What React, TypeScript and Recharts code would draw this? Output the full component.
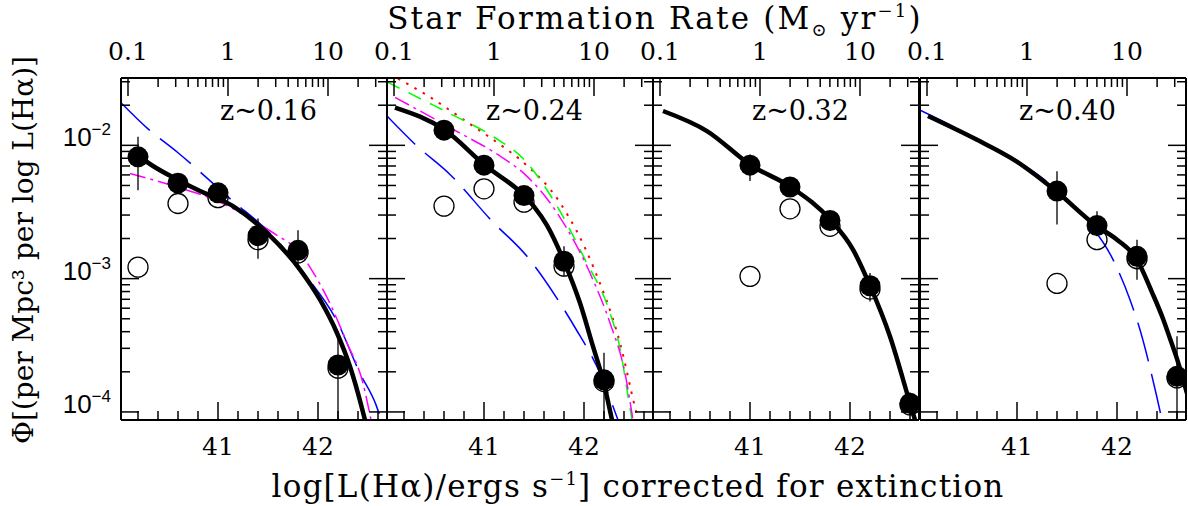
import React from "react";
import { ComposedChart, Line, Scatter, XAxis, YAxis, ErrorBar } from "recharts";

// axis ranges and ticks
const lumDomain = [40.03, 42.69];
const phiDomain = [8.7e-5, 3.2e-2];
const lumTicks = [40.2, 40.4, 40.6, 40.8, 41, 41.2, 41.4, 41.6, 41.8, 42, 42.2, 42.4, 42.6];
const lumLabels = [41, 42];
const sfrTicks = [0.1, 0.2, 0.3, 0.4, 0.5, 0.6, 0.7, 0.8, 0.9, 1, 2, 3, 4, 5, 6, 7, 8, 9, 10, 20, 30];
const sfrLabels = [0.1, 1, 10];
const phiTicks = [
  1e-4, 2e-4, 3e-4, 4e-4, 5e-4, 6e-4, 7e-4, 8e-4, 9e-4,
  1e-3, 2e-3, 3e-3, 4e-3, 5e-3, 6e-3, 7e-3, 8e-3, 9e-3,
  1e-2, 2e-2, 3e-2,
];
const phiLabels = [1e-4, 1e-3, 1e-2];
// SFR = 7.9e-42 L(Ha)  ->  log SFR = log L - 41.1
const sfrTickPos = sfrTicks.map((s) => Math.log10(s) + 41.1);

const panelNames = ["z~0.16", "z~0.24", "z~0.32", "z~0.40"];

// ---- z~0.16 ----
const z16Lum = [40.2, 40.6, 41.0, 41.4, 41.8, 42.2];
const z16Filled = [8.2e-3, 5.2e-3, 4.4e-3, 2.1e-3, 1.63e-3, 2.25e-4];
const z16Open = [1.22e-3, 3.66e-3, 4.05e-3, 1.96e-3, 1.56e-3, 2.13e-4];
const z16ErrLow = [4.6e-3, 4.5e-3, 4.0e-3, 1.41e-3, 1.16e-3, 8.7e-5];
const z16ErrHigh = [1.16e-2, 6.2e-3, 4.9e-3, 2.82e-3, 2.31e-3, 3.7e-4];
const z16FitX = [40.14, 40.35, 40.6, 40.82, 41.15, 41.49, 41.82, 42.02, 42.19, 42.32, 42.4, 42.47];
const z16FitY = [9.06e-3, 7.0e-3, 5.5e-3, 4.54e-3, 3.5e-3, 2.2e-3, 1.17e-3, 6.95e-4, 3.91e-4, 2.19e-4, 1.38e-4, 8.7e-5];
const z16BlueX = [40.03, 40.3, 40.6, 41.15, 41.5, 41.88, 42.19, 42.42, 42.58, 42.65];
const z16BlueY = [2.09e-2, 1.33e-2, 8.8e-3, 3.81e-3, 2.27e-3, 1.05e-3, 4.8e-4, 1.95e-4, 1.13e-4, 7.9e-5];
const z16MagX = [40.12, 40.61, 41.0, 41.39, 41.6, 41.79, 41.95, 42.09, 42.29, 42.45, 42.53];
const z16MagY = [6.15e-3, 4.81e-3, 3.81e-3, 2.62e-3, 2.09e-3, 1.66e-3, 1.12e-3, 7.24e-4, 3.29e-4, 1.64e-4, 8.7e-5];

// ---- z~0.24 ----
const z24Lum = [40.6, 41.0, 41.4, 41.8, 42.2];
const z24Filled = [1.3e-2, 7.1e-3, 4.2e-3, 1.35e-3, 1.74e-4];
const z24Open = [3.5e-3, 4.72e-3, 3.75e-3, 1.24e-3, 1.69e-4];
const z24ErrLow = [1.11e-2, 6.4e-3, 3.7e-3, 1.04e-3, 8.7e-5];
const z24ErrHigh = [1.48e-2, 7.8e-3, 4.7e-3, 1.75e-3, 2.78e-4];
const z24FitX = [40.11, 40.61, 41.01, 41.4, 41.5, 41.63, 41.8, 41.96, 42.09, 42.19, 42.28];
const z24FitY = [1.92e-2, 1.3e-2, 7.08e-3, 4.21e-3, 3.47e-3, 2.51e-3, 1.35e-3, 6.56e-4, 3.1e-4, 1.74e-4, 8.7e-5];
const z24BlueX = [40.03, 40.31, 40.66, 41.08, 41.43, 41.76, 41.91, 42.16, 42.34];
const z24BlueY = [1.66e-2, 1.02e-2, 6.05e-3, 2.7e-3, 1.47e-3, 6.56e-4, 4.3e-4, 1.95e-4, 8.7e-5];
const z24MagX = [40.11, 40.69, 41.21, 41.39, 41.73, 42.09, 42.26, 42.41, 42.49];
const z24MagY = [2.29e-2, 1.32e-2, 7.85e-3, 6.24e-3, 3.12e-3, 9.8e-4, 4.65e-4, 1.95e-4, 8.7e-5];
const z24GreenX = [40.03, 40.41, 40.64, 41.11, 41.38, 41.69, 42.01, 42.26, 42.36, 42.44, 42.48];
const z24GreenY = [2.99e-2, 2.15e-2, 1.76e-2, 1.14e-2, 8.1e-3, 3.93e-3, 1.39e-3, 5.52e-4, 3.0e-4, 1.32e-4, 8.7e-5];
const z24RedX = [40.14, 40.44, 40.84, 41.18, 41.38, 41.76, 42.09, 42.36, 42.53, 42.56];
const z24RedY = [3.17e-2, 2.35e-2, 1.48e-2, 9.9e-3, 7.6e-3, 3.71e-3, 1.24e-3, 3.29e-4, 9.5e-5, 7.9e-5];

// ---- z~0.32 ----
const z32Lum = [41.0, 41.4, 41.8, 42.2, 42.6];
const z32Filled = [7.1e-3, 4.87e-3, 2.73e-3, 8.85e-4, 1.16e-4];
const z32Open = [1.04e-3, 3.34e-3, 2.47e-3, 8.35e-4, 1.13e-4];
const z32ErrLow = [5.4e-3, 4.4e-3, 2.5e-3, 6.75e-4, 9.5e-5];
const z32ErrHigh = [8.55e-3, 5.4e-3, 3.0e-3, 1.1e-3, 1.4e-4];
const z32FitX = [40.13, 40.57, 41.01, 41.41, 41.81, 42.03, 42.2, 42.4, 42.6, 42.65];
const z32FitY = [1.81e-2, 1.28e-2, 7.08e-3, 4.86e-3, 2.73e-3, 1.65e-3, 8.85e-4, 3.68e-4, 1.16e-4, 8.7e-5];

// ---- z~0.40 ----
const z40Lum = [41.4, 41.8, 42.2, 42.6];
const z40Filled = [4.54e-3, 2.5e-3, 1.47e-3, 1.85e-4];
const z40Open = [9.2e-4, 1.96e-3, 1.41e-3, 1.8e-4];
const z40ErrLow = [2.55e-3, 2.08e-3, 9.8e-4, 8.7e-5];
const z40ErrHigh = [6.4e-3, 3.2e-3, 1.96e-3, 3.7e-4];
const z40FitX = [40.11, 40.59, 40.99, 41.39, 41.79, 42.0, 42.2, 42.35, 42.46, 42.53, 42.6, 42.7];
const z40FitY = [1.66e-2, 1.11e-2, 7.62e-3, 4.54e-3, 2.5e-3, 1.96e-3, 1.39e-3, 7.9e-4, 5.0e-4, 3.55e-4, 2.5e-4, 1.38e-4];
const z40BlueX = [40.02, 40.59, 41.39, 41.69, 41.96, 42.13, 42.23, 42.39, 42.45];
const z40BlueY = [1.85e-2, 1.12e-2, 4.68e-3, 2.78e-3, 1.39e-3, 6.95e-4, 4.14e-4, 1.38e-4, 8.7e-5];

// ---- layout ----
const W = 1188;
const H = 506;
const PLOT_TOP = 78;
const PLOT_H = 342;
const PANEL_W = 266;
const PAD_L = 121;
const PAD_R = 20;
const panelLefts = [121, 387, 653, 920];
const SERIF = "'DejaVu Serif', 'Liberation Serif', serif";
const SANS = "'Liberation Sans', Arial, sans-serif";

const styles: Record<string, any> = {
  fit: { stroke: "#000", strokeWidth: 4.5 },
  blue: { stroke: "#0000ff", strokeWidth: 1.5, strokeDasharray: "40 13" },
  magenta: { stroke: "#ff00ff", strokeWidth: 1.5, strokeDasharray: "16 5 3 5" },
  green: { stroke: "#00ff00", strokeWidth: 1.5, strokeDasharray: "14 10" },
  red: { stroke: "#ff0000", strokeWidth: 2, strokeDasharray: "2.5 7" },
};

const pts = (xs: number[], ys: number[]) => xs.map((x, i) => ({ x, y: ys[i] }));

const panels = [
  {
    lum: z16Lum, filled: z16Filled, open: z16Open, lo: z16ErrLow, hi: z16ErrHigh,
    curves: [
      { key: "blue", data: pts(z16BlueX, z16BlueY) },
      { key: "magenta", data: pts(z16MagX, z16MagY) },
      { key: "fit", data: pts(z16FitX, z16FitY) },
    ],
  },
  {
    lum: z24Lum, filled: z24Filled, open: z24Open, lo: z24ErrLow, hi: z24ErrHigh,
    curves: [
      { key: "blue", data: pts(z24BlueX, z24BlueY) },
      { key: "red", data: pts(z24RedX, z24RedY) },
      { key: "green", data: pts(z24GreenX, z24GreenY) },
      { key: "magenta", data: pts(z24MagX, z24MagY) },
      { key: "fit", data: pts(z24FitX, z24FitY) },
    ],
  },
  {
    lum: z32Lum, filled: z32Filled, open: z32Open, lo: z32ErrLow, hi: z32ErrHigh,
    curves: [{ key: "fit", data: pts(z32FitX, z32FitY) }],
  },
  {
    lum: z40Lum, filled: z40Filled, open: z40Open, lo: z40ErrLow, hi: z40ErrHigh,
    curves: [
      { key: "blue", data: pts(z40BlueX, z40BlueY) },
      { key: "fit", data: pts(z40FitX, z40FitY) },
    ],
  },
];

const near = (a: number, list: number[]) => list.some((b) => Math.abs(a - b) < 1e-6 * Math.max(1e-4, Math.abs(b)));
const MAJOR = 18;
const MINOR = 9;
const frame = { stroke: "#000", strokeWidth: 2 };

const BottomTick = (p: any) => {
  const major = near(p.payload.value, lumLabels);
  return (
    <g>
      <line x1={p.x} x2={p.x} y1={p.y} y2={p.y - (major ? MAJOR : MINOR)} stroke="#000" strokeWidth={1.5} />
      {major && (
        <text x={p.x} y={p.y + 35} textAnchor="middle" fontFamily={SERIF} fontSize={25}>
          {p.payload.value}
        </text>
      )}
    </g>
  );
};

const TopTick = (p: any) => {
  const i = sfrTickPos.findIndex((v) => Math.abs(v - p.payload.value) < 1e-6);
  const sfr = sfrTicks[i];
  const major = near(sfr, sfrLabels);
  return (
    <g>
      <line x1={p.x} x2={p.x} y1={p.y} y2={p.y + (major ? MAJOR : MINOR)} stroke="#000" strokeWidth={1.5} />
      {major && (
        <text x={p.x} y={p.y - 18} textAnchor="middle" fontFamily={SERIF} fontSize={25}>
          {sfr}
        </text>
      )}
    </g>
  );
};

const makeLeftTick = (labels: boolean) => (p: any) => {
  const major = near(p.payload.value, phiLabels);
  const exp = Math.round(Math.log10(p.payload.value));
  return (
    <g>
      <line x1={p.x} x2={p.x + (major ? MAJOR : MINOR)} y1={p.y} y2={p.y} stroke="#000" strokeWidth={1.5} />
      {labels && major && (
        <text x={p.x - 10} y={p.y + 1} textAnchor="end" fontFamily={SANS} fontSize={26}>
          10
          <tspan fontSize={17} dy={-11}>{"\u2212" + -exp}</tspan>
        </text>
      )}
    </g>
  );
};

const RightTick = (p: any) => {
  const major = near(p.payload.value, phiLabels);
  return <line x1={p.x} x2={p.x - (major ? MAJOR : MINOR)} y1={p.y} y2={p.y} stroke="#000" strokeWidth={1.5} />;
};

const FilledDot = (p: any) => <circle cx={p.cx} cy={p.cy} r={10.5} fill="#000" />;
const OpenDot = (p: any) => <circle cx={p.cx} cy={p.cy} r={10} fill="none" stroke="#000" strokeWidth={1.3} />;

// axes take 1px each (a 0-size axis is not drawn), so margins are 1px smaller
const AX = 1;

function Panel({ idx }: { idx: number }) {
  const panel = panels[idx];
  const filledPts = panel.lum.map((x, i) => ({
    x,
    y: panel.filled[i],
    err: [panel.filled[i] - panel.lo[i], panel.hi[i] - panel.filled[i]],
  }));
  const openPts = pts(panel.lum, panel.open);
  return (
    <div style={{ position: "absolute", left: panelLefts[idx] - PAD_L, top: 0 }}>
      <ComposedChart
        width={PAD_L + PANEL_W + PAD_R}
        height={H}
        margin={{
          top: PLOT_TOP - AX,
          bottom: H - PLOT_TOP - PLOT_H - AX,
          left: PAD_L - AX,
          right: PAD_R - AX,
        }}
      >
        <XAxis
          xAxisId="b"
          type="number"
          dataKey="x"
          domain={lumDomain}
          allowDataOverflow
          ticks={lumTicks}
          interval={0}
          height={AX}
          tickSize={0}
          tickMargin={0}
          tickLine={false}
          axisLine={frame}
          tick={BottomTick}
        />
        <XAxis
          xAxisId="t"
          orientation="top"
          type="number"
          dataKey="x"
          domain={lumDomain}
          allowDataOverflow
          ticks={sfrTickPos}
          interval={0}
          height={AX}
          tickSize={0}
          tickMargin={0}
          tickLine={false}
          axisLine={frame}
          tick={TopTick}
        />
        <YAxis
          yAxisId="l"
          type="number"
          dataKey="y"
          scale="log"
          domain={phiDomain}
          allowDataOverflow
          ticks={phiTicks}
          interval={0}
          width={AX}
          tickSize={0}
          tickMargin={0}
          tickLine={false}
          axisLine={frame}
          tick={makeLeftTick(idx === 0)}
        />
        <YAxis
          yAxisId="r"
          orientation="right"
          type="number"
          dataKey="y"
          scale="log"
          domain={phiDomain}
          allowDataOverflow
          ticks={phiTicks}
          interval={0}
          width={AX}
          tickSize={0}
          tickMargin={0}
          tickLine={false}
          axisLine={frame}
          tick={RightTick}
        />
        {/* invisible carrier so the SFR axis has a series */}
        <Line
          xAxisId="t"
          yAxisId="r"
          data={openPts}
          dataKey="y"
          stroke="none"
          dot={false}
          activeDot={false}
          isAnimationActive={false}
        />
        {panel.curves.map((c, i) => (
          <Line
            key={c.key + i}
            xAxisId="b"
            yAxisId="l"
            data={c.data}
            dataKey="y"
            type="monotone"
            dot={false}
            activeDot={false}
            isAnimationActive={false}
            {...styles[c.key]}
          />
        ))}
        <Scatter xAxisId="b" yAxisId="l" data={openPts} shape={OpenDot} isAnimationActive={false} />
        <Scatter xAxisId="b" yAxisId="l" data={filledPts} shape={FilledDot} isAnimationActive={false}>
          <ErrorBar dataKey="err" direction="y" width={0} stroke="#000" strokeWidth={1.3} />
        </Scatter>
      </ComposedChart>
    </div>
  );
}

export default function App() {
  return (
    <div style={{ position: "absolute", left: 0, top: 0, width: W, height: H, overflow: "hidden", background: "#fff" }}>
      {panels.map((_, i) => (
        <Panel key={i} idx={i} />
      ))}
      <svg width={W} height={H} style={{ position: "absolute", left: 0, top: 0, pointerEvents: "none" }}>
        <text x={655} y={29} textAnchor="middle" fontFamily={SERIF} fontSize={31} letterSpacing={2.2}>
          Star Formation Rate (M
          <tspan fontSize={18} dy={7}>{"\u2299"}</tspan>
          <tspan dy={-7}> yr</tspan>
          <tspan fontSize={18} dy={-12}>{"\u22121"}</tspan>
          <tspan dy={12}>)</tspan>
        </text>
        <text x={638} y={497} textAnchor="middle" fontFamily={SERIF} fontSize={31} letterSpacing={1.2}>
          log[L(H{"\u03b1"})/ergs s
          <tspan fontSize={18} dy={-12}>{"\u22121"}</tspan>
          <tspan dy={12}>] corrected for extinction</tspan>
        </text>
        <text x={33} y={250} textAnchor="middle" fontFamily={SERIF} fontSize={28} transform="rotate(-90 33 250)">
          {"\u03a6[(per Mpc\u00b3 per log L(H\u03b1)]"}
        </text>
        {panelNames.map((name, i) => (
          <text key={name} x={panelLefts[i] + 99} y={120} fontFamily={SERIF} fontSize={27}>
            {name}
          </text>
        ))}
      </svg>
    </div>
  );
}
